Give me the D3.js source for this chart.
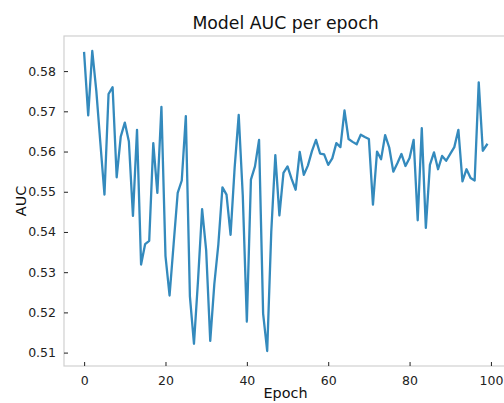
<!DOCTYPE html>
<html>
<head>
<meta charset="utf-8">
<script src="https://cdn.jsdelivr.net/npm/d3@7"></script>
<style>
  html, body { margin: 0; padding: 0; background: #fff; }
  svg { display: block; font-family: "DejaVu Sans", sans-serif; }
</style>
</head>
<body>
<svg id="chart" width="504" height="403"></svg>
<script>
// Validation AUC recorded after each training epoch
const epochs = d3.range(0, 100);
const aucValues = [
  0.5845, 0.5690, 0.5850, 0.5750, 0.5620, 0.5493, 0.5743, 0.5760, 0.5536, 0.5637,
  0.5672, 0.5625, 0.5440, 0.5654, 0.5319, 0.5370, 0.5378, 0.5621, 0.5497, 0.5711,
  0.5340, 0.5242, 0.5370, 0.5497, 0.5528, 0.5688, 0.5240, 0.5122, 0.5280, 0.5457,
  0.5354, 0.5129, 0.5270, 0.5370, 0.5511, 0.5493, 0.5393, 0.5560, 0.5691, 0.5490,
  0.5177, 0.5530, 0.5563, 0.5629, 0.5197, 0.5104, 0.5400, 0.5591, 0.5441, 0.5547,
  0.5563, 0.5532, 0.5505, 0.5599, 0.5542, 0.5565, 0.5601, 0.5629, 0.5595, 0.5593,
  0.5567, 0.5583, 0.5621, 0.5611, 0.5702, 0.5631, 0.5624, 0.5618, 0.5642, 0.5636,
  0.5631, 0.5468, 0.5600, 0.5581, 0.5641, 0.5610, 0.5550, 0.5571, 0.5594, 0.5564,
  0.5584, 0.5629, 0.5429, 0.5658, 0.5410, 0.5567, 0.5598, 0.5556, 0.5589, 0.5577,
  0.5594, 0.5611, 0.5654, 0.5526, 0.5556, 0.5534, 0.5528, 0.5772, 0.5602, 0.5617
];
const xTickValues = [0, 20, 40, 60, 80, 100];
const yTickValues = [0.51, 0.52, 0.53, 0.54, 0.55, 0.56, 0.57, 0.58];
const chartTitle = "Model AUC per epoch";
const xLabel = "Epoch";
const yLabel = "AUC";

const svg = d3.select("#chart");
const plot = { left: 64, right: 507, top: 36, bottom: 366 };

// pad the data range by 5% on each side
function padded(ext) {
  const span = ext[1] - ext[0];
  return [ext[0] - span * 0.05, ext[1] + span * 0.05];
}

const x = d3.scaleLinear()
  .domain(padded(d3.extent(epochs)))
  .range([plot.left, plot.right]);
const y = d3.scaleLinear()
  .domain(padded(d3.extent(aucValues)))
  .range([plot.bottom, plot.top]);

// frame
svg.append("rect")
  .attr("x", plot.left).attr("y", plot.top)
  .attr("width", plot.right - plot.left).attr("height", plot.bottom - plot.top)
  .attr("fill", "none").attr("stroke", "#d0d0d0").attr("stroke-width", 1.2);

// axes with short inward ticks
const xAxis = d3.axisBottom(x).tickValues(xTickValues).tickSize(-4).tickPadding(10)
  .tickFormat(d3.format("d"));
const gx = svg.append("g").attr("transform", `translate(0,${plot.bottom})`).call(xAxis);
gx.select(".domain").remove();
gx.selectAll(".tick line").attr("stroke", "#222").attr("stroke-width", 1);
gx.selectAll(".tick text").attr("fill", "#222").attr("font-size", 12.5)
  .attr("font-family", "DejaVu Sans");

const yAxis = d3.axisLeft(y).tickValues(yTickValues).tickSize(-4).tickPadding(8)
  .tickFormat(d3.format(".2f"));
const gy = svg.append("g").attr("transform", `translate(${plot.left},0)`).call(yAxis);
gy.select(".domain").remove();
gy.selectAll(".tick line").attr("stroke", "#222").attr("stroke-width", 1);
gy.selectAll(".tick text").attr("fill", "#222").attr("font-size", 12.5)
  .attr("font-family", "DejaVu Sans");

// AUC curve
const line = d3.line()
  .x((d, i) => x(epochs[i]))
  .y(d => y(d));
svg.append("path")
  .datum(aucValues)
  .attr("d", line)
  .attr("fill", "none")
  .attr("stroke", "#348ABD")
  .attr("stroke-width", 2.3)
  .attr("stroke-linejoin", "round")
  .attr("stroke-linecap", "square");

// titles
svg.append("text")
  .attr("x", (plot.left + plot.right) / 2).attr("y", 29)
  .attr("text-anchor", "middle").attr("font-size", 17.3).attr("fill", "#111")
  .text(chartTitle);
svg.append("text")
  .attr("x", (plot.left + plot.right) / 2).attr("y", 398)
  .attr("text-anchor", "middle").attr("font-size", 14.4).attr("fill", "#111")
  .text(xLabel);
svg.append("text")
  .attr("transform", `translate(26,${(plot.top + plot.bottom) / 2}) rotate(-90)`)
  .attr("text-anchor", "middle").attr("font-size", 14.4).attr("fill", "#111")
  .text(yLabel);
</script>
</body>
</html>
